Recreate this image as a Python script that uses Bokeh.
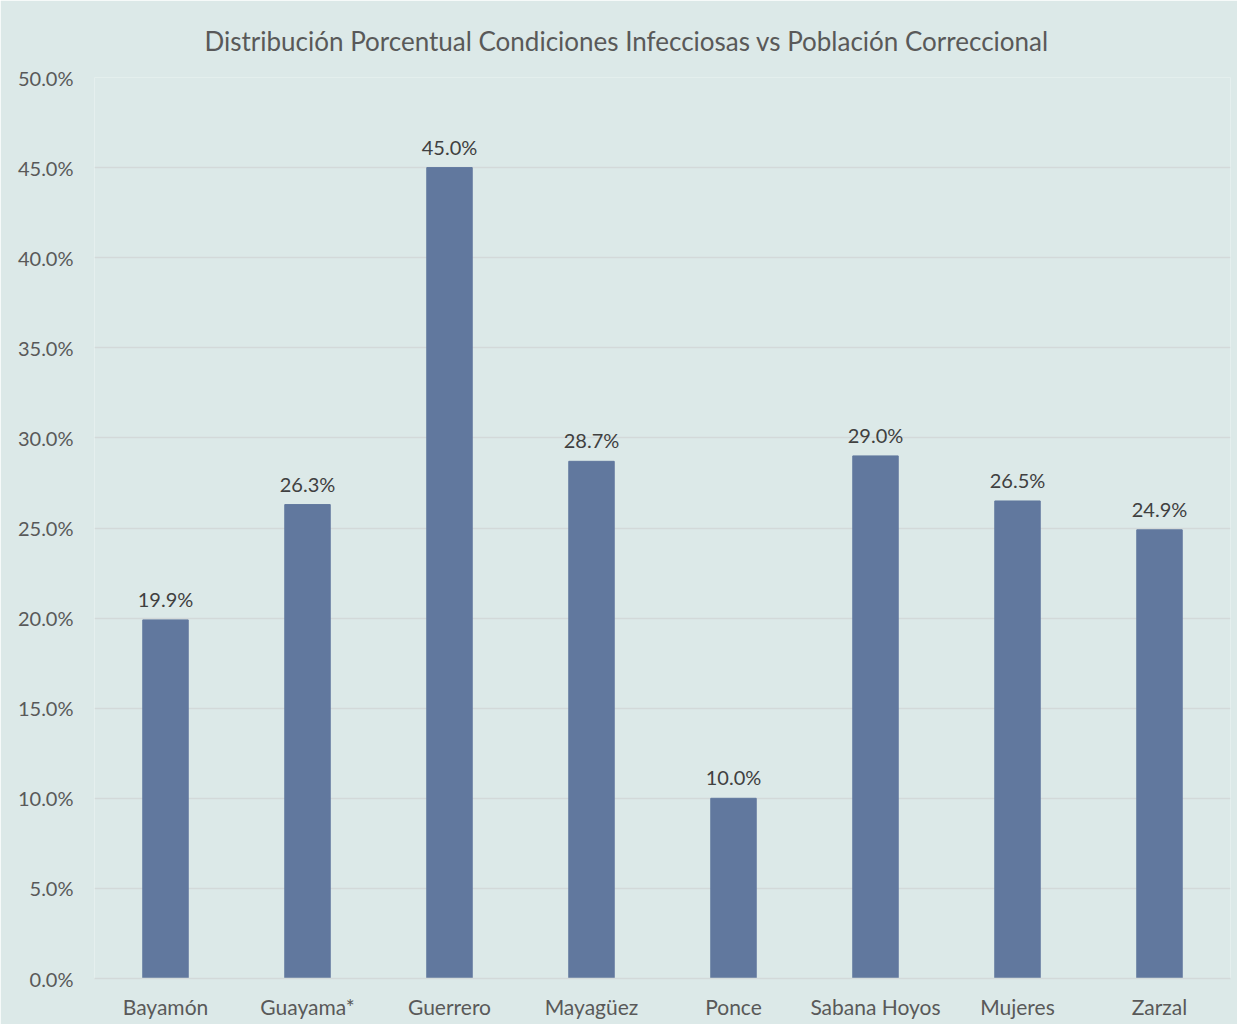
from bokeh.plotting import figure
from bokeh.models import ColumnDataSource, LabelSet, FixedTicker, CustomJSTickFormatter
from bokeh.core.properties import value
from bokeh.embed import file_html
from bokeh.resources import INLINE

categories = ["Bayamón", "Guayama*", "Guerrero", "Mayagüez", "Ponce", "Sabana Hoyos", "Mujeres", "Zarzal"]
values = [19.9, 26.3, 45.0, 28.7, 10.0, 29.0, 26.5, 24.9]
labels = [f"{v:.1f}%" for v in values]
yticks = [0, 5, 10, 15, 20, 25, 30, 35, 40, 45, 50]

BG = "#DCE9E8"
FONT = "Lato"

src = ColumnDataSource(dict(cat=categories, val=values, lab=labels))

p = figure(x_range=categories, y_range=(0, 50), width=1237, height=1024,
           output_backend="svg", toolbar_location=None,
           title="Distribución Porcentual  Condiciones Infecciosas vs Población Correccional",
           min_border_left=94, min_border_right=7, min_border_top=77, min_border_bottom=46)

p.background_fill_color = BG
p.border_fill_color = BG
p.outline_line_color = None

p.title.align = "left"
p.title.offset = 110
p.title.text_font = FONT
p.title.text_font_style = "normal"
p.title.text_font_size = "26px"
p.title.text_color = "#595959"
p.title.standoff = 41

p.vbar(x="cat", top="val", width=0.32, source=src, color="#61789E")

p.add_layout(LabelSet(x="cat", y="val", text="lab", source=src, text_align="center",
                      text_baseline="bottom", y_offset=9, text_font_size="20px",
                      text_color="#404040", text_font=value(FONT)))

p.yaxis.ticker = FixedTicker(ticks=yticks)
p.yaxis.formatter = CustomJSTickFormatter(code="return tick.toFixed(1) + '%';")
for ax in (p.xaxis, p.yaxis):
    ax.axis_line_color = None
    ax.major_tick_line_color = None
    ax.minor_tick_line_color = None
    ax.major_label_text_font = FONT
    ax.major_label_text_color = "#595959"
p.yaxis.major_label_text_font_size = "20px"
p.yaxis.major_label_standoff = 15
p.xaxis.major_label_text_font_size = "21px"
p.xaxis.major_label_standoff = 9
p.xaxis.axis_line_color = "#D3D9D9"
p.xaxis.axis_line_width = 1.5

p.xgrid.grid_line_color = None
p.ygrid.grid_line_color = "#D3D9D9"
p.ygrid.grid_line_width = 1.5
p.ygrid.ticker = FixedTicker(ticks=yticks)
p.x_range.range_padding = 0

open("out.html", "w").write(file_html(p, INLINE))
